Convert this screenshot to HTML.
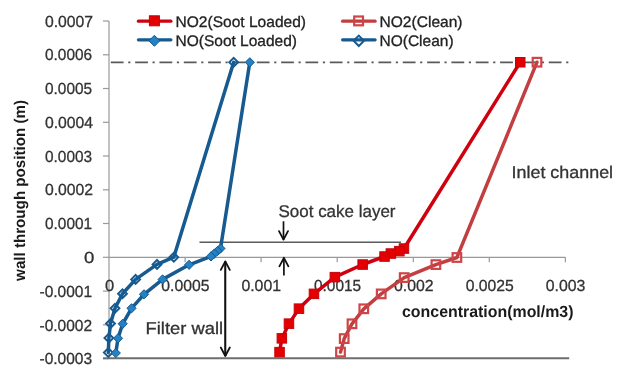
<!DOCTYPE html><html><head><meta charset="utf-8"><style>html,body{margin:0;padding:0;background:#fff;}svg{display:block;will-change:transform;filter:blur(0.35px);}text{font-family:"Liberation Sans",sans-serif;}svg{text-rendering:geometricPrecision;}</style></head><body>
<svg width="623" height="378" viewBox="0 0 623 378">
<rect width="623" height="378" fill="#fff"/>
<line x1="109.0" y1="21.0" x2="109.0" y2="358.4" stroke="#999999" stroke-width="1.2"/>
<line x1="103" y1="358.6" x2="109.0" y2="358.6" stroke="#999999" stroke-width="1.2"/>
<line x1="103" y1="324.8" x2="109.0" y2="324.8" stroke="#999999" stroke-width="1.2"/>
<line x1="103" y1="291.1" x2="109.0" y2="291.1" stroke="#999999" stroke-width="1.2"/>
<line x1="103" y1="257.3" x2="109.0" y2="257.3" stroke="#999999" stroke-width="1.2"/>
<line x1="103" y1="223.5" x2="109.0" y2="223.5" stroke="#999999" stroke-width="1.2"/>
<line x1="103" y1="189.8" x2="109.0" y2="189.8" stroke="#999999" stroke-width="1.2"/>
<line x1="103" y1="156.0" x2="109.0" y2="156.0" stroke="#999999" stroke-width="1.2"/>
<line x1="103" y1="122.3" x2="109.0" y2="122.3" stroke="#999999" stroke-width="1.2"/>
<line x1="103" y1="88.5" x2="109.0" y2="88.5" stroke="#999999" stroke-width="1.2"/>
<line x1="103" y1="54.8" x2="109.0" y2="54.8" stroke="#999999" stroke-width="1.2"/>
<line x1="103" y1="21.0" x2="109.0" y2="21.0" stroke="#999999" stroke-width="1.2"/>
<line x1="109.0" y1="257.3" x2="565.4" y2="257.3" stroke="#999999" stroke-width="1.2"/>
<line x1="185.1" y1="257.3" x2="185.1" y2="262.3" stroke="#999999" stroke-width="1.2"/>
<line x1="261.1" y1="257.3" x2="261.1" y2="262.3" stroke="#999999" stroke-width="1.2"/>
<line x1="337.2" y1="257.3" x2="337.2" y2="262.3" stroke="#999999" stroke-width="1.2"/>
<line x1="413.3" y1="257.3" x2="413.3" y2="262.3" stroke="#999999" stroke-width="1.2"/>
<line x1="489.3" y1="257.3" x2="489.3" y2="262.3" stroke="#999999" stroke-width="1.2"/>
<line x1="565.4" y1="257.3" x2="565.4" y2="262.3" stroke="#999999" stroke-width="1.2"/>
<text x="45.00" y="26.50" font-size="16" fill="#333" stroke="#333" stroke-width="0.3" textLength="48.06" lengthAdjust="spacingAndGlyphs">0.0007</text>
<text x="45.00" y="60.29" font-size="16" fill="#333" stroke="#333" stroke-width="0.3" textLength="47.04" lengthAdjust="spacingAndGlyphs">0.0006</text>
<text x="45.00" y="94.07" font-size="16" fill="#333" stroke="#333" stroke-width="0.3" textLength="47.04" lengthAdjust="spacingAndGlyphs">0.0005</text>
<text x="45.00" y="127.86" font-size="16" fill="#333" stroke="#333" stroke-width="0.3" textLength="48.06" lengthAdjust="spacingAndGlyphs">0.0004</text>
<text x="45.00" y="161.64" font-size="16" fill="#333" stroke="#333" stroke-width="0.3" textLength="47.04" lengthAdjust="spacingAndGlyphs">0.0003</text>
<text x="45.00" y="195.43" font-size="16" fill="#333" stroke="#333" stroke-width="0.3" textLength="48.06" lengthAdjust="spacingAndGlyphs">0.0002</text>
<text x="45.00" y="229.21" font-size="16" fill="#333" stroke="#333" stroke-width="0.3" textLength="47.04" lengthAdjust="spacingAndGlyphs">0.0001</text>
<text x="84.00" y="263.00" font-size="16" fill="#333" stroke="#333" stroke-width="0.3" textLength="10.34" lengthAdjust="spacingAndGlyphs">0</text>
<text x="39.50" y="296.79" font-size="16" fill="#333" stroke="#333" stroke-width="0.3" textLength="52.54" lengthAdjust="spacingAndGlyphs">-0.0001</text>
<text x="39.50" y="330.57" font-size="16" fill="#333" stroke="#333" stroke-width="0.3" textLength="52.54" lengthAdjust="spacingAndGlyphs">-0.0002</text>
<text x="39.50" y="364.36" font-size="16" fill="#333" stroke="#333" stroke-width="0.3" textLength="52.54" lengthAdjust="spacingAndGlyphs">-0.0003</text>
<text x="105.00" y="291.00" font-size="16" fill="#333" stroke="#333" stroke-width="0.3" textLength="9.19" lengthAdjust="spacingAndGlyphs">0</text>
<text x="161.33" y="291.00" font-size="16" fill="#333" stroke="#333" stroke-width="0.3" textLength="48.06" lengthAdjust="spacingAndGlyphs">0.0005</text>
<text x="241.42" y="291.00" font-size="16" fill="#333" stroke="#333" stroke-width="0.3" textLength="39.56" lengthAdjust="spacingAndGlyphs">0.001</text>
<text x="314.00" y="291.00" font-size="16" fill="#333" stroke="#333" stroke-width="0.3" textLength="47.04" lengthAdjust="spacingAndGlyphs">0.0015</text>
<text x="394.08" y="291.00" font-size="16" fill="#333" stroke="#333" stroke-width="0.3" textLength="39.58" lengthAdjust="spacingAndGlyphs">0.002</text>
<text x="465.67" y="291.00" font-size="16" fill="#333" stroke="#333" stroke-width="0.3" textLength="48.06" lengthAdjust="spacingAndGlyphs">0.0025</text>
<text x="545.75" y="291.00" font-size="16" fill="#333" stroke="#333" stroke-width="0.3" textLength="39.56" lengthAdjust="spacingAndGlyphs">0.003</text>
<text x="175.50" y="26.90" font-size="15.3" fill="#222" stroke="#222" stroke-width="0.3" textLength="130.53" lengthAdjust="spacingAndGlyphs">NO2(Soot Loaded)</text>
<text x="175.50" y="45.70" font-size="15.3" fill="#222" stroke="#222" stroke-width="0.3" textLength="121.53" lengthAdjust="spacingAndGlyphs">NO(Soot Loaded)</text>
<text x="379.50" y="26.90" font-size="15.3" fill="#222" stroke="#222" stroke-width="0.3" textLength="83.06" lengthAdjust="spacingAndGlyphs">NO2(Clean)</text>
<text x="379.50" y="45.70" font-size="15.3" fill="#222" stroke="#222" stroke-width="0.3" textLength="74.06" lengthAdjust="spacingAndGlyphs">NO(Clean)</text>
<text x="511.50" y="178.40" font-size="17" fill="#333" stroke="#333" stroke-width="0.3" textLength="101.59" lengthAdjust="spacingAndGlyphs">Inlet channel</text>
<text x="278.50" y="216.90" font-size="17" fill="#333" stroke="#333" stroke-width="0.3" textLength="117.01" lengthAdjust="spacingAndGlyphs">Soot cake layer</text>
<text x="145.50" y="334.10" font-size="17" fill="#333" stroke="#333" stroke-width="0.3" textLength="77.58" lengthAdjust="spacingAndGlyphs">Filter wall</text>
<text x="402.00" y="317.40" font-size="16.2" font-weight="bold" fill="#1a1a1a" stroke="#1a1a1a" stroke-width="0" textLength="171.51" lengthAdjust="spacingAndGlyphs">concentration(mol/m3)</text>
<line x1="103" y1="358.2" x2="569.2" y2="358.2" stroke="#6e6e6e" stroke-width="2"/>
<line x1="110.8" y1="62.3" x2="568.5" y2="62.3" stroke="#5a5a5a" stroke-width="1.8" stroke-dasharray="12.8 4.6 2.2 4.73"/>
<line x1="199.5" y1="242.3" x2="401" y2="242.3" stroke="#5a5a5a" stroke-width="1.6"/>
<polyline points="233.7,62.3 173.8,257.2 157.0,264.4 135.6,279.4 122.5,293.8 115.0,308.3 110.5,323.6 108.9,338.0 108.3,352.5" fill="none" stroke="#165a90" stroke-width="3.5" stroke-linejoin="round" stroke-linecap="round"/>
<polyline points="249.8,62.3 220.5,248.5 217.5,251.0 214.3,253.6 211.0,256.4 189.1,264.8 162.6,279.4 144.0,294.3 131.5,308.3 122.7,323.8 118.0,338.3 115.8,353.0" fill="none" stroke="#165a90" stroke-width="3.5" stroke-linejoin="round" stroke-linecap="round"/>
<polyline points="537.0,62.2 456.9,257.5 435.9,264.6 404.2,277.6 381.2,293.9 363.8,308.8 352.0,323.8 344.2,338.6 340.5,352.1" fill="none" stroke="#c23e40" stroke-width="3.5" stroke-linejoin="round" stroke-linecap="round"/>
<polyline points="520.2,62.2 404.0,248.5 399.4,251.2 390.8,253.6 384.5,256.5 362.7,264.5 334.8,277.1 314.0,293.9 299.0,308.6 289.0,323.6 281.9,338.4 279.5,352.1" fill="none" stroke="#cf0010" stroke-width="3.5" stroke-linejoin="round" stroke-linecap="round"/>
<path d="M233.7 57.9L238.1 62.3L233.7 66.7L229.3 62.3Z" fill="none" stroke="#165a90" stroke-width="2"/>
<path d="M173.8 252.8L178.2 257.2L173.8 261.6L169.4 257.2Z" fill="none" stroke="#165a90" stroke-width="2"/>
<path d="M157.0 260.0L161.4 264.4L157.0 268.8L152.6 264.4Z" fill="none" stroke="#165a90" stroke-width="2"/>
<path d="M135.6 275.0L140.0 279.4L135.6 283.8L131.2 279.4Z" fill="none" stroke="#165a90" stroke-width="2"/>
<path d="M122.5 289.4L126.9 293.8L122.5 298.2L118.1 293.8Z" fill="none" stroke="#165a90" stroke-width="2"/>
<path d="M115.0 303.9L119.4 308.3L115.0 312.7L110.6 308.3Z" fill="none" stroke="#165a90" stroke-width="2"/>
<path d="M110.5 319.2L114.9 323.6L110.5 328.0L106.1 323.6Z" fill="none" stroke="#165a90" stroke-width="2"/>
<path d="M108.9 333.6L113.3 338.0L108.9 342.4L104.5 338.0Z" fill="none" stroke="#165a90" stroke-width="2"/>
<path d="M108.3 348.1L112.7 352.5L108.3 356.9L103.9 352.5Z" fill="none" stroke="#165a90" stroke-width="2"/>
<path d="M249.8 57.7L254.4 62.3L249.8 66.9L245.2 62.3Z" fill="#2681c4" stroke="#165a90" stroke-width="1"/>
<path d="M220.5 243.9L225.1 248.5L220.5 253.1L215.9 248.5Z" fill="#2681c4" stroke="#165a90" stroke-width="1"/>
<path d="M217.5 246.4L222.1 251.0L217.5 255.6L212.9 251.0Z" fill="#2681c4" stroke="#165a90" stroke-width="1"/>
<path d="M214.3 249.0L218.9 253.6L214.3 258.2L209.7 253.6Z" fill="#2681c4" stroke="#165a90" stroke-width="1"/>
<path d="M211.0 251.8L215.6 256.4L211.0 261.0L206.4 256.4Z" fill="#2681c4" stroke="#165a90" stroke-width="1"/>
<path d="M189.1 260.2L193.7 264.8L189.1 269.4L184.5 264.8Z" fill="#2681c4" stroke="#165a90" stroke-width="1"/>
<path d="M162.6 274.8L167.2 279.4L162.6 284.0L158.0 279.4Z" fill="#2681c4" stroke="#165a90" stroke-width="1"/>
<path d="M144.0 289.7L148.6 294.3L144.0 298.9L139.4 294.3Z" fill="#2681c4" stroke="#165a90" stroke-width="1"/>
<path d="M131.5 303.7L136.1 308.3L131.5 312.9L126.9 308.3Z" fill="#2681c4" stroke="#165a90" stroke-width="1"/>
<path d="M122.7 319.2L127.3 323.8L122.7 328.4L118.1 323.8Z" fill="#2681c4" stroke="#165a90" stroke-width="1"/>
<path d="M118.0 333.7L122.6 338.3L118.0 342.9L113.4 338.3Z" fill="#2681c4" stroke="#165a90" stroke-width="1"/>
<path d="M115.8 348.4L120.4 353.0L115.8 357.6L111.2 353.0Z" fill="#2681c4" stroke="#165a90" stroke-width="1"/>
<rect x="532.7" y="57.9" width="8.6" height="8.6" fill="none" stroke="#cf4446" stroke-width="2.2"/>
<rect x="452.6" y="253.2" width="8.6" height="8.6" fill="none" stroke="#cf4446" stroke-width="2.2"/>
<rect x="431.6" y="260.3" width="8.6" height="8.6" fill="none" stroke="#cf4446" stroke-width="2.2"/>
<rect x="399.9" y="273.3" width="8.6" height="8.6" fill="none" stroke="#cf4446" stroke-width="2.2"/>
<rect x="376.9" y="289.6" width="8.6" height="8.6" fill="none" stroke="#cf4446" stroke-width="2.2"/>
<rect x="359.5" y="304.5" width="8.6" height="8.6" fill="none" stroke="#cf4446" stroke-width="2.2"/>
<rect x="347.7" y="319.5" width="8.6" height="8.6" fill="none" stroke="#cf4446" stroke-width="2.2"/>
<rect x="339.9" y="334.3" width="8.6" height="8.6" fill="none" stroke="#cf4446" stroke-width="2.2"/>
<rect x="336.2" y="347.8" width="8.6" height="8.6" fill="none" stroke="#cf4446" stroke-width="2.2"/>
<rect x="515.5" y="57.5" width="9.5" height="9.5" fill="#e20000" stroke="#c8000a" stroke-width="1"/>
<rect x="399.2" y="243.8" width="9.5" height="9.5" fill="#e20000" stroke="#c8000a" stroke-width="1"/>
<rect x="394.6" y="246.4" width="9.5" height="9.5" fill="#e20000" stroke="#c8000a" stroke-width="1"/>
<rect x="386.1" y="248.8" width="9.5" height="9.5" fill="#e20000" stroke="#c8000a" stroke-width="1"/>
<rect x="379.8" y="251.8" width="9.5" height="9.5" fill="#e20000" stroke="#c8000a" stroke-width="1"/>
<rect x="357.9" y="259.8" width="9.5" height="9.5" fill="#e20000" stroke="#c8000a" stroke-width="1"/>
<rect x="330.1" y="272.4" width="9.5" height="9.5" fill="#e20000" stroke="#c8000a" stroke-width="1"/>
<rect x="309.2" y="289.1" width="9.5" height="9.5" fill="#e20000" stroke="#c8000a" stroke-width="1"/>
<rect x="294.2" y="303.9" width="9.5" height="9.5" fill="#e20000" stroke="#c8000a" stroke-width="1"/>
<rect x="284.2" y="318.9" width="9.5" height="9.5" fill="#e20000" stroke="#c8000a" stroke-width="1"/>
<rect x="277.1" y="333.6" width="9.5" height="9.5" fill="#e20000" stroke="#c8000a" stroke-width="1"/>
<rect x="274.8" y="347.4" width="9.5" height="9.5" fill="#e20000" stroke="#c8000a" stroke-width="1"/>
<line x1="283.5" y1="221.3" x2="283.5" y2="239.6" stroke="#111" stroke-width="1.7"/><polyline points="279.0,231.1 283.5,239.6 288.0,231.1" fill="none" stroke="#111" stroke-width="1.8" stroke-linejoin="round" stroke-linecap="round"/>
<line x1="283.9" y1="275.4" x2="283.9" y2="257.8" stroke="#111" stroke-width="1.7"/><polyline points="279.4,266.3 283.9,257.8 288.4,266.3" fill="none" stroke="#111" stroke-width="1.8" stroke-linejoin="round" stroke-linecap="round"/>
<line x1="225.3" y1="356.0" x2="225.3" y2="261.4" stroke="#111" stroke-width="1.7"/><polyline points="220.8,269.9 225.3,261.4 229.8,269.9" fill="none" stroke="#111" stroke-width="1.8" stroke-linejoin="round" stroke-linecap="round"/>
<line x1="225.3" y1="261.4" x2="225.3" y2="356.0" stroke="#111" stroke-width="1.7"/><polyline points="220.8,347.5 225.3,356.0 229.8,347.5" fill="none" stroke="#111" stroke-width="1.8" stroke-linejoin="round" stroke-linecap="round"/>
<line x1="138.4" y1="21.2" x2="170.9" y2="21.2" stroke="#cf0010" stroke-width="3.2" stroke-linecap="round"/>
<rect x="149.4" y="15.8" width="10" height="10" fill="#e20000" stroke="#c8000a" stroke-width="1"/>
<line x1="138.4" y1="39.8" x2="170.9" y2="39.8" stroke="#165a90" stroke-width="3.2" stroke-linecap="round"/>
<path d="M154.4 35.3L159.9 40.8L154.4 46.3L148.9 40.8Z" fill="#2681c4" stroke="#165a90" stroke-width="1"/>
<line x1="342.6" y1="21.2" x2="375.1" y2="21.2" stroke="#c23e40" stroke-width="3.2" stroke-linecap="round"/>
<rect x="354.2" y="16.5" width="8.8" height="8.8" fill="none" stroke="#cf4446" stroke-width="2.2"/>
<line x1="342.6" y1="39.8" x2="375.1" y2="39.8" stroke="#165a90" stroke-width="3.2" stroke-linecap="round"/>
<path d="M358.8 35.6L364.0 40.8L358.8 46.0L353.6 40.8Z" fill="none" stroke="#165a90" stroke-width="2"/>
<text transform="translate(25.1,280.9) rotate(-90)" x="0" y="0" font-size="15.5" font-weight="bold" fill="#1a1a1a" textLength="180.9" lengthAdjust="spacingAndGlyphs">wall through position (m)</text>
</svg></body></html>
